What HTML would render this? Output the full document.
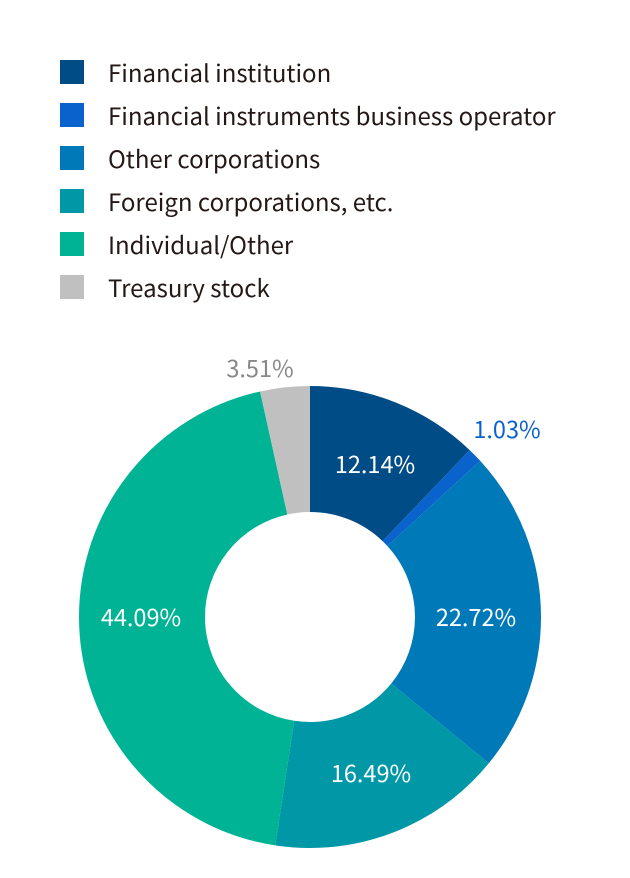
<!DOCTYPE html>
<html><head><meta charset="utf-8"><style>
body{margin:0;width:630px;height:878px;background:#fff;font-family:"Noto Sans CJK JP","Liberation Sans",sans-serif;overflow:hidden}
.lg{position:absolute;left:60px;width:24px;height:24px}
.lt{position:absolute;left:108px;font-size:24px;color:#231815;line-height:24px}
</style></head><body>
<div class="lg" style="top:60px;background:#004c86"></div><div class="lt" style="top:60px">Financial institution</div>
<div class="lg" style="top:103px;background:#0a62cc"></div><div class="lt" style="top:103px">Financial instruments business operator</div>
<div class="lg" style="top:146px;background:#0079b8"></div><div class="lt" style="top:146px">Other corporations</div>
<div class="lg" style="top:189px;background:#0097a7"></div><div class="lt" style="top:189px">Foreign corporations, etc.</div>
<div class="lg" style="top:232px;background:#00b394"></div><div class="lt" style="top:232px">Individual/Other</div>
<div class="lg" style="top:275px;background:#c0c0c0"></div><div class="lt" style="top:275px">Treasury stock</div>
<svg id="s" width="630" height="878" style="position:absolute;left:0;top:0" font-family="Noto Sans CJK JP, Liberation Sans, sans-serif" font-size="23.5">
<g id="g" transform="rotate(-90 310 617)"></g>
<text x="375" y="473" fill="#fff" text-anchor="middle">12.14%</text>
<text x="507" y="438" fill="#0a62cc" text-anchor="middle">1.03%</text>
<text x="476" y="626" fill="#fff" text-anchor="middle">22.72%</text>
<text x="371" y="782" fill="#fff" text-anchor="middle">16.49%</text>
<text x="141" y="626" fill="#fff" text-anchor="middle">44.09%</text>
<text x="260" y="377" fill="#888" text-anchor="middle">3.51%</text>
</svg>
<script>
var d=[[12.14,"#004c86"],[1.03,"#0a62cc"],[22.72,"#0079b8"],[16.49,"#0097a7"],[44.09,"#00b394"],[3.51,"#c0c0c0"]];
var r=168,C=2*Math.PI*r,tot=99.98,acc=0,g=document.getElementById("g"),h="";
d.forEach(function(e){var l=e[0]/tot*C;h+='<circle cx="310" cy="617" r="'+r+'" fill="none" stroke="'+e[1]+'" stroke-width="126" stroke-dasharray="'+l+' '+(C-l)+'" stroke-dashoffset="'+(-acc)+'"/>';acc+=l;});
g.innerHTML=h;
</script>
</body></html>
